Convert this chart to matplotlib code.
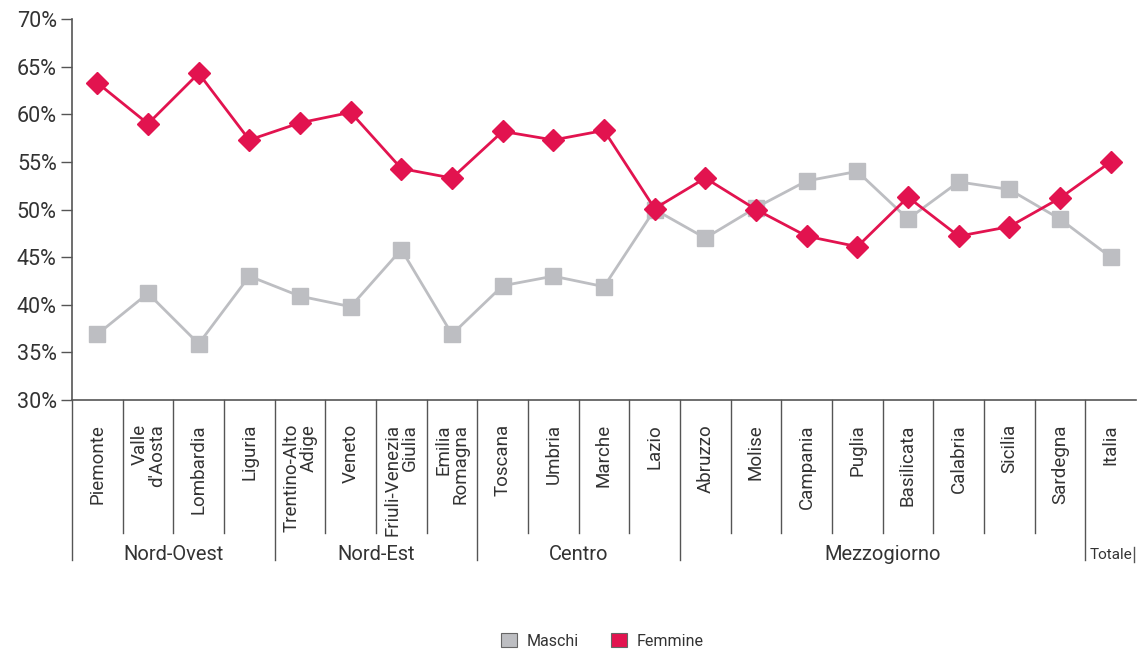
import matplotlib
matplotlib.use("Agg")
import matplotlib.pyplot as plt
from matplotlib.patches import Patch
from matplotlib.transforms import blended_transform_factory

plt.rcParams['font.family'] = ['Roboto', 'DejaVu Sans']

regions = ["Piemonte", "Valle\nd'Aosta", "Lombardia", "Liguria", "Trentino-Alto\nAdige",
           "Veneto", "Friuli-Venezia\nGiulia", "Emilia\nRomagna", "Toscana", "Umbria",
           "Marche", "Lazio", "Abruzzo", "Molise", "Campania", "Puglia", "Basilicata",
           "Calabria", "Sicilia", "Sardegna", "Italia"]
maschi = [36.9, 41.2, 35.9, 43.0, 40.9, 39.8, 45.8, 36.9, 42.0, 43.0, 41.9,
          50.0, 47.0, 50.2, 53.0, 54.0, 49.0, 52.9, 52.1, 49.0, 45.0]
femmine = [63.3, 59.0, 64.3, 57.3, 59.1, 60.2, 54.3, 53.3, 58.2, 57.3, 58.3,
           50.1, 53.3, 50.0, 47.2, 46.1, 51.3, 47.2, 48.2, 51.2, 55.0]
groups = ["Nord-Ovest", "Nord-Est", "Centro", "Mezzogiorno", "Totale"]
group_sizes = [4, 4, 4, 8, 1]

GREY = '#BDBEC2'
RED = '#E2134F'
TXT = '#333333'
AX = '#555555'

fig = plt.figure(figsize=(11.37, 6.54), dpi=100)
W, H = 1137, 654
ax = fig.add_axes([72 / W, 1 - 400 / H, (1136 - 72) / W, (400 - 19) / H])

x = list(range(len(regions)))
ax.plot(x, maschi, color=GREY, lw=2.0, marker='s', ms=12, mec=GREY, mfc=GREY, zorder=3)
ax.plot(x, femmine, color=RED, lw=2.0, marker='D', ms=11, mec=RED, mfc=RED, zorder=4)

ax.set_xlim(-0.5, len(regions) - 0.5)
ax.set_ylim(30, 70)
ax.set_yticks(range(30, 71, 5))
ax.set_yticklabels([f"{v}%" for v in range(30, 71, 5)], fontsize=15.5, color=TXT)
ax.tick_params(axis='y', length=8, width=1, color=AX, pad=3)
ax.set_xticks([])
for s in ['top', 'right']:
    ax.spines[s].set_visible(False)
for s in ['left', 'bottom']:
    ax.spines[s].set_color(AX)
    ax.spines[s].set_linewidth(1.2)

trans = blended_transform_factory(ax.transData, ax.transAxes)
def fy(py):
    return (400 - py) / 381

# category labels
for i, lab in enumerate(regions):
    ax.text(i, fy(424), lab, transform=trans, rotation=90, ha='center', va='top',
            multialignment='right', fontsize=13.5, color=TXT, linespacing=0.95)

# separators
bounds = [-0.5]
for g in group_sizes:
    bounds.append(bounds[-1] + g)
for i in range(len(regions)):
    b = i - 0.5
    yb = fy(560) if b in bounds else fy(533)
    ax.plot([b, b], [0, yb], transform=trans, color=AX, lw=1.0, clip_on=False)
# short closing line next to "Totale"
ax.plot([len(regions) - 0.53, len(regions) - 0.53], [fy(547), fy(562)], transform=trans,
        color=AX, lw=1.0, clip_on=False)

# group labels
for gi, g in enumerate(groups):
    c = (bounds[gi] + bounds[gi + 1]) / 2
    fs = 11 if g == "Totale" else 14.5
    ax.text(c, fy(555), g, transform=trans, ha='center', va='center',
            fontsize=fs, color=TXT)

handles = [Patch(facecolor=GREY, edgecolor='#666666', lw=0.8, label='Maschi'),
           Patch(facecolor=RED, edgecolor='#666666', lw=0.8, label='Femmine')]
fig.legend(handles=handles, loc='center', bbox_to_anchor=(0.53, 1 - 641 / H), ncol=2,
           frameon=False, fontsize=11.5, handlelength=1.0, handleheight=1.0,
           columnspacing=2.0, handletextpad=0.6, labelcolor=TXT)

fig.savefig('out.png', dpi=100)
